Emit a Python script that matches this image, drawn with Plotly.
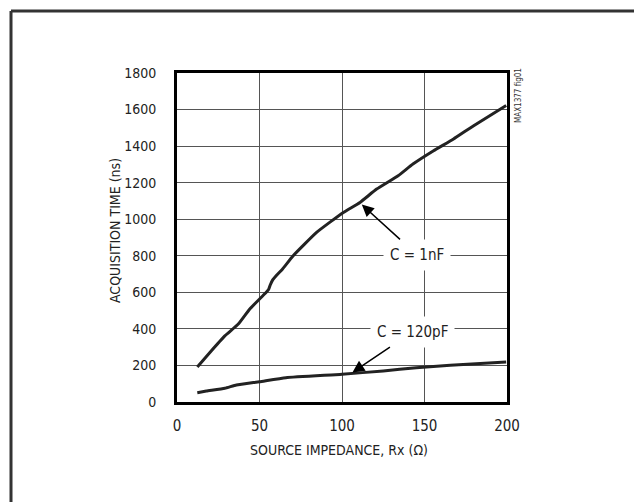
import plotly.graph_objects as go

# C = 1nF curve
rx_1nf = [12.3, 19.8, 29, 37, 44, 53.5, 55.5, 56.5, 58, 60.5, 64, 70.4, 84.6,
          100.8, 110.9, 121, 134, 143, 155.5, 167.6, 179.8, 199.5]
t_1nf = [192, 270, 362, 425, 508, 595, 615, 640, 668, 695, 728, 800, 928,
         1037, 1092, 1165, 1238, 1302, 1375, 1439, 1512, 1622]

# C = 120pF curve
rx_120pf = [12.3, 17.8, 29, 36, 50, 66, 100, 125, 145, 165.6, 199.5]
t_120pf = [51, 60, 75, 93, 111, 133, 152, 170, 188, 201, 219]

x_ticks = [0, 50, 100, 150, 200]
y_ticks = [0, 200, 400, 600, 800, 1000, 1200, 1400, 1600, 1800]

FONT = "DejaVu Sans Condensed, Liberation Sans Narrow, Liberation Sans, Arial, sans-serif"
INK = "#222222"

# page body has an 8px margin, so figure coords = screen coords - 8
L, R, T, B = 169, 499, 65, 394
W, H = R - L, B - T


def px(x):
    return (x - 8 - L) / W


def py(y):
    return (B - (y - 8)) / H


fig = go.Figure()
fig.add_trace(go.Scatter(x=rx_1nf, y=t_1nf, mode="lines",
                         line=dict(color=INK, width=3, shape="spline", smoothing=0.4),
                         showlegend=False, hoverinfo="skip"))
fig.add_trace(go.Scatter(x=rx_120pf, y=t_120pf, mode="lines",
                         line=dict(color=INK, width=3, shape="spline", smoothing=0.4),
                         showlegend=False, hoverinfo="skip"))

fig.update_layout(
    width=642, height=502,
    margin=dict(l=L, r=642 - R, t=T, b=502 - B),
    paper_bgcolor="white", plot_bgcolor="white",
    font=dict(family=FONT, size=15, color=INK),
)
fig.update_xaxes(range=[0, 200], tickvals=x_ticks, showgrid=True,
                 gridcolor="#555555", gridwidth=1, zeroline=False,
                 showline=True, linecolor="black", linewidth=3, mirror=True,
                 ticks="outside", ticklen=8, tickcolor="rgba(0,0,0,0)",
                 tickfont=dict(size=15))
fig.update_yaxes(range=[0, 1800], tickvals=y_ticks, showgrid=True,
                 gridcolor="#555555", gridwidth=1, zeroline=False,
                 showline=True, linecolor="black", linewidth=3, mirror=True,
                 ticks="outside", ticklen=15, tickcolor="rgba(0,0,0,0)",
                 tickfont=dict(size=14))

# curve labels with arrows
fig.add_annotation(x=112, y=1080, ax=145.5, ay=805, axref="x", ayref="y",
                   text="C = 1nF", showarrow=True, arrowhead=2, arrowsize=1.6,
                   arrowwidth=1.5, arrowcolor="black", bgcolor="white",
                   borderpad=6, font=dict(size=15))
fig.add_annotation(x=106.3, y=162, ax=143, ay=385, axref="x", ayref="y",
                   text="C = 120pF", showarrow=True, arrowhead=2, arrowsize=1.6,
                   arrowwidth=1.5, arrowcolor="black", bgcolor="white",
                   borderpad=6, font=dict(size=15))

# axis titles
fig.add_annotation(x=px(339), y=py(450), xref="paper", yref="paper",
                   xanchor="center", yanchor="middle",
                   text="SOURCE IMPEDANCE, Rx (Ω)", showarrow=False,
                   font=dict(size=14))
fig.add_annotation(x=px(115), y=py(231), xref="paper", yref="paper",
                   xanchor="center", yanchor="middle",
                   text="ACQUISITION TIME (ns)", textangle=-90, showarrow=False,
                   font=dict(size=14))
fig.add_annotation(x=px(518), y=py(96), xref="paper", yref="paper",
                   xanchor="center", yanchor="middle",
                   text="MAX1377 fig01", textangle=-90, showarrow=False,
                   font=dict(size=8, color="#333333"))

# outer frame (top and left edges)
fig.add_shape(type="line", xref="paper", yref="paper",
              x0=px(11), y0=py(11), x1=px(660), y1=py(11),
              line=dict(color="#333333", width=3))
fig.add_shape(type="line", xref="paper", yref="paper",
              x0=px(11), y0=py(11), x1=px(11), y1=py(520),
              line=dict(color="#333333", width=3))

fig.write_html("out.html")
